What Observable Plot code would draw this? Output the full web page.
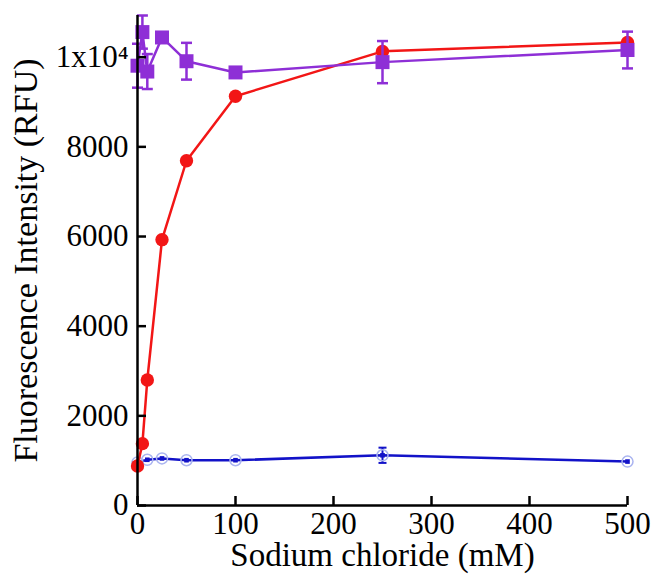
<!DOCTYPE html>
<html><head><meta charset="utf-8">
<script src="https://cdn.jsdelivr.net/npm/d3@7"></script>
<script src="https://cdn.jsdelivr.net/npm/@observablehq/plot@0.6"></script>
<style>body{margin:0;background:#fff}</style>
</head><body><div id="chart"></div>
<script>
// Data
const redX = [0, 5, 10, 25, 50, 100, 250, 500];
const redY = [880, 1380, 2800, 5930, 7690, 9130, 10130, 10330];
const purpleX = [0, 5, 10, 25, 50, 100, 250, 500];
const purpleY = [9810, 10560, 9680, 10440, 9910, 9660, 9890, 10160];
const purpleErr = [490, 370, 390, 0, 410, 0, 470, 410];
const blueX = [0, 10, 25, 50, 100, 250, 500];
const blueY = [960, 1020, 1050, 1010, 1010, 1120, 980];
const blueErr = [0, 0, 0, 0, 0, 170, 0];
const xTicks = [0, 100, 200, 300, 400, 500];
const yTicks = [0, 2000, 4000, 6000, 8000, 10000];
const yTickLabels = ["0", "2000", "4000", "6000", "8000", "1x10\u2074"];
const xLabel = "Sodium chloride (mM)";
const yLabel = "Fluorescence Intensity (RFU)";

const red = redX.map((x, i) => ({x, y: redY[i]}));
const purple = purpleX.map((x, i) => ({x, y: purpleY[i], e: purpleErr[i]}));
const blue = blueX.map((x, i) => ({x, y: blueY[i], e: blueErr[i]}));
const purpleE = purple.filter(d => d.e > 0);
const blueE = blue.filter(d => d.e > 0);

const RED = "#f21616", PURPLE = "#8e2fd6", BLUE = "#1212c8", LIGHTBLUE = "#aab4f0";
const capSym = {draw(ctx) { ctx.moveTo(-5.5, 0); ctx.lineTo(5.5, 0); }};
const capSymS = {draw(ctx) { ctx.moveTo(-4, 0); ctx.lineTo(4, 0); }};

const W = 653, H = 574, ML = 137, MR = 26, MT = 15, MB = 69;
const PW = W - ML - MR, PH = H - MT - MB;

const chart = Plot.plot({
  width: W, height: H,
  marginLeft: ML, marginRight: MR, marginTop: MT, marginBottom: MB,
  x: {domain: [0, 500], axis: null},
  y: {domain: [0, 10930], axis: null},
  style: {fontFamily: "'Liberation Serif', 'Times New Roman', serif", fontSize: "31px", color: "black", background: "white", overflow: "visible"},
  marks: [
    // blue series
    Plot.line(blue, {x: "x", y: "y", stroke: BLUE, strokeWidth: 2.6}),
    Plot.ruleX(blueE, {x: "x", y1: d => d.y - d.e, y2: d => d.y + d.e, stroke: BLUE, strokeWidth: 2}),
    Plot.dot(blueE, {x: "x", y: d => d.y - d.e, symbol: capSymS, stroke: BLUE, strokeWidth: 2}),
    Plot.dot(blueE, {x: "x", y: d => d.y + d.e, symbol: capSymS, stroke: BLUE, strokeWidth: 2}),
    Plot.dot(blue, {x: "x", y: "y", r: 5.5, stroke: LIGHTBLUE, strokeWidth: 1.5, fill: "none"}),
    Plot.dot(blue, {x: "x", y: "y", r: 2.6, symbol: "square", fill: BLUE}),
    // red series
    Plot.line(red, {x: "x", y: "y", stroke: RED, strokeWidth: 2.5}),
    Plot.dot(red, {x: "x", y: "y", r: 6.7, fill: RED}),
    // purple series
    Plot.line(purple, {x: "x", y: "y", stroke: PURPLE, strokeWidth: 2.5}),
    Plot.ruleX(purpleE, {x: "x", y1: d => d.y - d.e, y2: d => d.y + d.e, stroke: PURPLE, strokeWidth: 2.5}),
    Plot.dot(purpleE, {x: "x", y: d => d.y - d.e, symbol: capSym, stroke: PURPLE, strokeWidth: 2.5}),
    Plot.dot(purpleE, {x: "x", y: d => d.y + d.e, symbol: capSym, stroke: PURPLE, strokeWidth: 2.5}),
    Plot.dot(purple, {x: "x", y: "y", r: 7.9, symbol: "square", fill: PURPLE}),
    // axes
    Plot.ruleX([0], {stroke: "black", strokeWidth: 2.5}),
    Plot.ruleY([0], {stroke: "black", strokeWidth: 2.5}),
    Plot.tickX(xTicks, {x: d => d, insetTop: PH - 9, stroke: "black", strokeWidth: 2.5}),
    Plot.tickY(yTicks, {y: d => d, insetRight: PW - 9, stroke: "black", strokeWidth: 2.5}),
    Plot.axisX({ticks: xTicks, tickSize: 0, tickPadding: 6, label: null, tickFormat: d => String(d)}),
    Plot.axisY({ticks: yTicks, tickSize: 0, tickPadding: 9, label: null, tickFormat: d => yTickLabels[yTicks.indexOf(d)]}),
    Plot.text([xLabel], {frameAnchor: "bottom", dy: 50, lineAnchor: "middle", textAnchor: "middle", fontSize: 33}),
    Plot.text([yLabel], {frameAnchor: "left", dx: -(ML - 26), rotate: -90, lineAnchor: "middle", textAnchor: "middle", fontSize: 34})
  ]
});
document.getElementById("chart").appendChild(chart);
</script>
</body></html>
